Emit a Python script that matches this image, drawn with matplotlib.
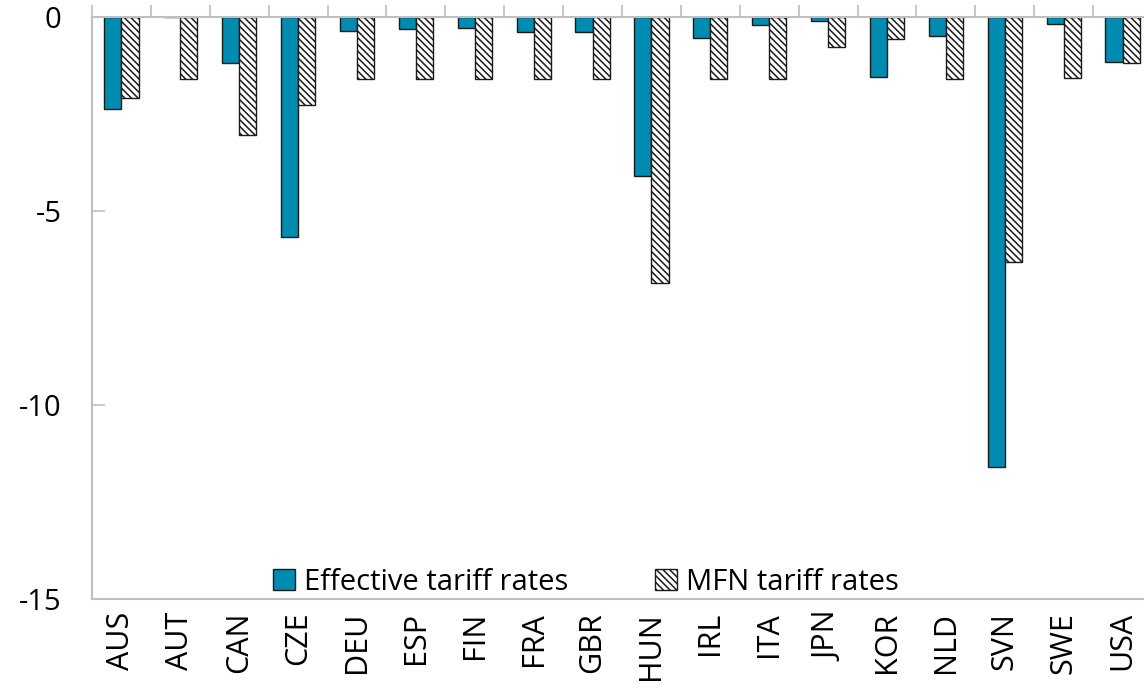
import numpy as np
import matplotlib
matplotlib.use("Agg")
import matplotlib.pyplot as plt

countries = ["AUS", "AUT", "CAN", "CZE", "DEU", "ESP", "FIN", "FRA", "GBR",
             "HUN", "IRL", "ITA", "JPN", "KOR", "NLD", "SVN", "SWE", "USA"]
effective = [-2.36, 0.0, -1.17, -5.66, -0.35, -0.31, -0.28, -0.39, -0.39,
             -4.09, -0.53, -0.21, -0.10, -1.53, -0.48, -11.58, -0.17, -1.14]
mfn = [-2.09, -1.58, -3.03, -2.26, -1.58, -1.58, -1.58, -1.58, -1.58,
       -6.86, -1.58, -1.58, -0.77, -0.56, -1.58, -6.31, -1.57, -1.19]

plt.rcParams['font.family'] = ['Open Sans', 'DejaVu Sans']
plt.rcParams['hatch.color'] = '#555555'
plt.rcParams['hatch.linewidth'] = 1.1

fig = plt.figure(figsize=(11.44, 6.92), dpi=100)
ax = fig.add_axes([0.0804, 0.134, 0.9266, 0.841])

x = np.arange(len(countries))
w = 0.29
ax.bar(x - w / 2, effective, w, color='#008BB0', edgecolor='#1a1a1a', linewidth=1,
       label='Effective tariff rates')
ax.bar(x + w / 2, mfn, w, color='white', edgecolor='#1a1a1a', linewidth=1,
       hatch='\\\\\\\\\\', label='MFN tariff rates')

ax.set_xlim(-0.5, len(countries) - 0.5)
ax.set_ylim(-15, 0)
ax.set_yticks([0, -5, -10, -15])
ax.set_yticklabels(['0', '-5', '-10', '-15'])

ax.set_xticks(x)
ax.set_xticklabels(countries, rotation=90)
ax.set_xticks(np.arange(len(countries) + 1) - 0.5, minor=True)
ax.tick_params(axis='x', which='major', length=0, labelsize=22, pad=9)
ax.tick_params(axis='x', which='minor', bottom=False, top=True, direction='out',
               length=9, color='#bfbfbf', width=1.2)
ax.tick_params(axis='y', direction='in', length=9, color='#bfbfbf', width=1.2,
               labelsize=21, pad=22)

for s in ['left', 'bottom', 'top']:
    ax.spines[s].set_color('#bfbfbf')
    ax.spines[s].set_linewidth(1.5)
ax.spines['right'].set_visible(False)

ax.legend(loc='lower center', bbox_to_anchor=(0.466, -0.016), ncol=2, frameon=False,
          fontsize=21, handlelength=0.75, handleheight=0.75, handletextpad=0.3,
          columnspacing=3.0, borderaxespad=0.0)

fig.savefig('out.png', dpi=100)
